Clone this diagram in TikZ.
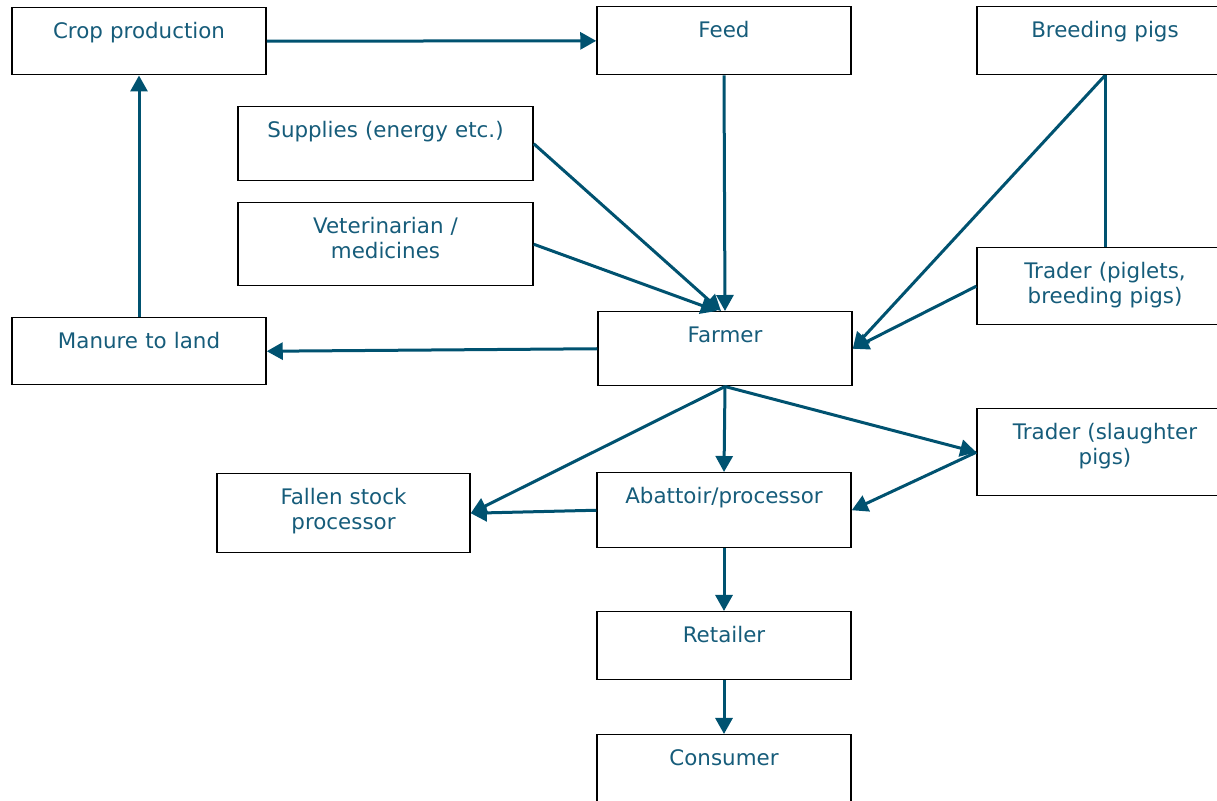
\documentclass[tikz,border=0pt]{standalone}
\usepackage{fontspec}
\setmainfont{DejaVu Sans}
\usetikzlibrary{arrows.meta}
\definecolor{flowblue}{RGB}{0,82,112}
\definecolor{labelblue}{RGB}{22,92,122}

\begin{document}
\begin{tikzpicture}[x=0.5pt,y=-0.5pt,
    box/.style={draw, rectangle, line width=0.75pt, inner sep=0pt, anchor=north,
      text width=127pt, align=center, text height=15.5pt, text depth=#1,
      text=labelblue, font=\fontsize{10.7}{12.5}\selectfont},
    link/.style={draw=flowblue, line width=1.5pt, -{Triangle[length=8pt,width=8.5pt]}}]
          \useasboundingbox (0,0) rectangle (1217,801);

          % Nodes
          \node[box=18pt] (crop) at (139,7) {Crop production};
          \node[box=18.5pt] (feed) at (724,6) {Feed};
          \node[box=18.5pt, text width=128pt] (breeding) at (1105,6) {Breeding pigs};
          \node[box=21.5pt, text width=147.5pt] (supplies) at (385.5,106) {Supplies (energy etc.)};
          \node[box=26pt, text width=147.5pt] (vet) at (385.5,202) {Veterinarian /\\ medicines};
          \node[box=23pt, text width=128pt] (traderpig) at (1105,247) {Trader (piglets,\\ breeding pigs)};
          \node[box=18pt] (manure) at (139,317) {Manure to land};
          \node[box=21.5pt] (farmer) at (725,311) {Farmer};
          \node[box=28pt, text width=128pt] (traderslau) at (1105,408) {Trader (slaughter\\ pigs)};
          \node[box=24pt, text width=126.5pt] (fallen) at (343.5,473) {Fallen stock\\ processor};
          \node[box=22pt] (abattoir) at (724,472) {Abattoir/processor};
          \node[box=18.5pt] (retailer) at (724,611) {Retailer};
          \node[box=22pt] (consumer) at (724,734) {Consumer};

          % Arrows
          \draw[link] (crop) -- (feed);
          \draw[link] (manure) -- (crop);
          \draw[link] (feed.south) -- (farmer.north);
          \draw[link] (supplies.east) -- ([xshift=-2pt]farmer.north);
          \draw[link] (vet.east) -- ([xshift=-4pt]farmer.north);
          \draw[link] (breeding.south) -- (farmer.east);
          \draw[flowblue, line width=1.5pt] (breeding.south) -- (traderpig.north);
          \draw[link] (traderpig.west) -- (farmer.east);
          \draw[link] (farmer.west) -- (manure.east);
          \draw[link] (farmer.south) -- (fallen.east);
          \draw[link] (farmer.south) -- (abattoir.north);
          \draw[link] (farmer.south) -- (traderslau.west);
          \draw[link] (traderslau.west) -- (abattoir.east);
          \draw[link] (abattoir.west) -- (fallen.east);
          \draw[link] (abattoir) -- (retailer);
          \draw[link] (retailer) -- (consumer);
        \end{tikzpicture}
\end{document}
